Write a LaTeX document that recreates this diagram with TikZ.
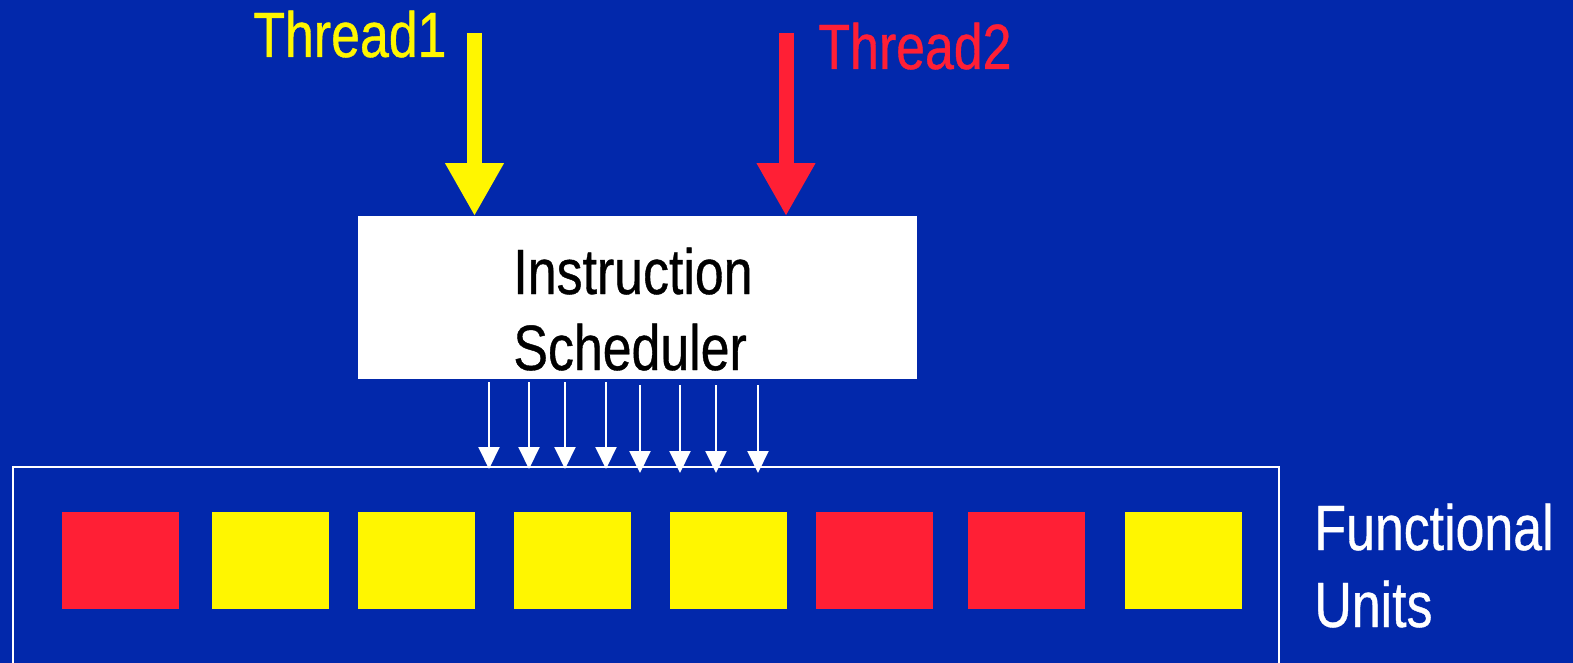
\documentclass[tikz,border=0pt]{standalone}
\usepackage{fontspec}
\setmainfont{Liberation Sans}[FakeStretch=0.81,FakeBold=0.6]
\usetikzlibrary{arrows.meta}
\definecolor{slideblue}{RGB}{2,40,171}
\definecolor{thyellow}{RGB}{255,246,0}
\definecolor{thred}{RGB}{255,31,53}
\tikzset{
  big/.style={font=\fontsize{32}{38}\selectfont, inner sep=0pt, anchor=base west},
  threadarrow/.style={line width=7.5pt, -{Triangle[width=27.5pt,length=26.5pt]}},
  issue/.style={draw=white, line width=1pt, -{Triangle[width=10.5pt,length=11pt]}},
  unit/.style={minimum width=58.5pt, minimum height=48.5pt, inner sep=0pt, draw=none}
}
\begin{document}
\begin{tikzpicture}[x=0.5pt,y=-0.5pt]
  % page and background
  \useasboundingbox (0,0) rectangle (1573,663);
  \fill[slideblue] (0,0) rectangle (1573,663);
  \clip (0,0) rectangle (1573,663);

  % thread labels
  \node[big, text=thyellow] (t1label) at (253,57) {Thread1};
  \node[big, text=thred] (t2label) at (818,69) {Thread2};

  % scheduler box
  \node[fill=white, minimum width=279.5pt, minimum height=81pt, inner sep=0pt] (sched) at (637.5,297.5) {};
  \node[big] (instr) at (513,294) {Instruction};
  \node[big] (schedtxt) at (513,370) {Scheduler};

  % thread input arrows
  \coordinate (t1start) at (474.5,33);
  \coordinate (t2start) at (786,33);
  \draw[threadarrow, thyellow] (t1start) -- (t1start |- sched.north);
  \draw[threadarrow, thred] (t2start) -- (t2start |- sched.north);

  % functional unit frame
  \draw[white, line width=1pt] (13,467) rectangle (1279,720);

  % issue arrows from scheduler to units
  \foreach \x/\ys/\ye [count=\i] in {489/382/469, 529/382/469, 565/382/469, 606/382/469,
                                     640/385/473, 680/385/473, 716/385/473, 758/385/473} {
    \coordinate (is\i) at (\x,\ys);
    \coordinate (ie\i) at (\x,\ye);
    \draw[issue] (is\i) -- (ie\i);
  }

  % functional units
  \foreach \x/\c [count=\i] in {120.5/thred, 270.5/thyellow, 416/thyellow, 572.5/thyellow,
                                728/thyellow, 874/thred, 1026.5/thred, 1183/thyellow} {
    \node[unit, fill=\c] (u\i) at (\x,560.5) {};
  }

  % functional units label
  \node[big, text=white] (fulab1) at (1314,550) {Functional};
  \node[big, text=white] (fulab2) at (1314,627) {Units};
\end{tikzpicture}
\end{document}
